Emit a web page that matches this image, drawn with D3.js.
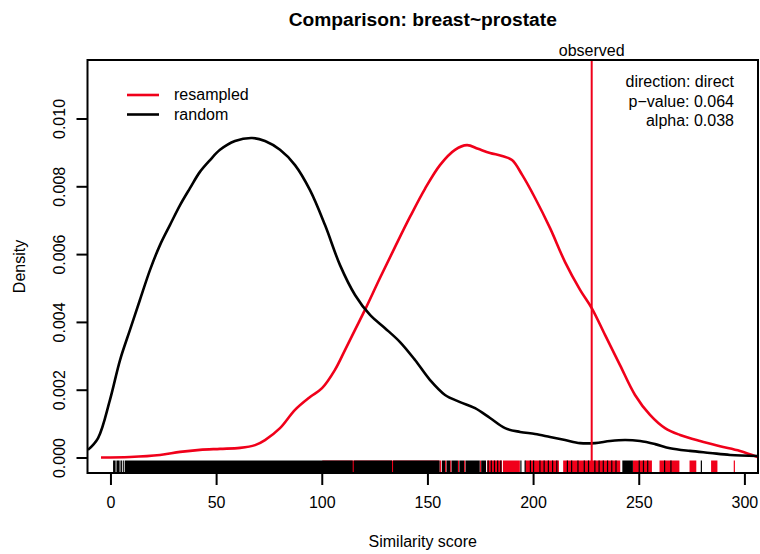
<!DOCTYPE html>
<html>
<head>
<meta charset="utf-8">
<script src="https://cdn.jsdelivr.net/npm/d3@7"></script>
<style>
html,body{margin:0;padding:0;background:#fff;}
text{font-family:"Liberation Sans",Arial,Helvetica,sans-serif;fill:#000;}
</style>
</head>
<body>
<svg id="chart" width="760" height="554"></svg>
<script>
// ---- data ----
const titleText = "Comparison: breast~prostate";
const xLabel = "Similarity score";
const yLabel = "Density";
const xTicks = [0, 50, 100, 150, 200, 250, 300];
const yTicks = [0, 0.002, 0.004, 0.006, 0.008, 0.010];
const yTickLabels = ["0.000", "0.002", "0.004", "0.006", "0.008", "0.010"];
const seriesNames = ["resampled", "random"];
const infoLines = ["direction: direct", "p\u2212value: 0.064", "alpha: 0.038"];
const observedValue = 227.5;
const observedLabel = "observed";

// random density curve (x, density)
const randomX = [-10.9, -6.1, -0.5, 4.3, 9.0, 13.7, 18.5, 23.2, 27.9, 32.7, 37.4, 42.1, 46.9, 51.6, 58.7, 66.8, 72.9, 80.0, 87.1, 94.2, 101.3, 108.4, 115.5, 122.6, 129.7, 136.8, 143.9, 151.0, 158.1, 165.2, 172.3, 179.4, 186.5, 193.6, 200.7, 207.8, 214.9, 222.0, 229.1, 236.2, 243.3, 250.4, 257.5, 264.6, 274.0, 283.5, 293.0, 306.0];
const randomY = [0.00024, 0.00059, 0.00171, 0.00289, 0.00378, 0.00466, 0.00555, 0.00628, 0.00687, 0.00746, 0.00796, 0.00844, 0.00879, 0.00909, 0.00935, 0.00944, 0.00935, 0.00909, 0.00864, 0.00790, 0.00687, 0.00569, 0.00481, 0.00422, 0.00383, 0.00342, 0.00289, 0.00230, 0.00186, 0.00165, 0.00147, 0.00118, 0.00088, 0.00077, 0.00071, 0.00062, 0.00053, 0.00044, 0.00044, 0.00050, 0.00053, 0.00050, 0.00041, 0.00029, 0.00021, 0.00015, 0.00009, 0.00006];

// resampled density curve (x, density)
const resampledX = [-4.7, 9.0, 23.2, 32.7, 42.1, 51.6, 61.1, 68.2, 72.9, 80.0, 87.1, 94.2, 99.9, 106.0, 110.8, 115.5, 120.2, 127.3, 134.4, 141.5, 148.6, 155.7, 162.8, 168.5, 173.7, 179.4, 185.1, 189.8, 194.6, 200.7, 207.8, 214.9, 222.0, 227.7, 233.8, 240.9, 248.0, 255.1, 262.2, 269.3, 278.8, 288.2, 297.7, 306.0];
const resampledY = [0.000015, 0.00003, 0.00009, 0.00018, 0.00024, 0.00027, 0.00030, 0.00038, 0.00053, 0.00088, 0.00142, 0.00180, 0.00206, 0.00260, 0.00319, 0.00378, 0.00437, 0.00531, 0.00622, 0.00711, 0.00794, 0.00864, 0.00909, 0.00923, 0.00912, 0.00900, 0.00891, 0.00879, 0.00835, 0.00767, 0.00678, 0.00578, 0.00496, 0.00440, 0.00363, 0.00274, 0.00186, 0.00127, 0.00088, 0.00068, 0.00050, 0.00035, 0.00021, 0.00003];

// rug: dense ranges (bands) and single ticks
const resampledRugBands = [[100, 155.5], [178, 185], [185.5, 193.5], [196, 212], [214, 241], [247, 256], [259.6, 269], [273.8, 277], [284, 287]];
const resampledRugTicks = [156, 158.4, 160.8, 164.5, 167.4, 174.8, 295];
const randomRugBands = [[1.0, 2.2], [2.6, 4.1], [4.5, 5.2], [5.6, 6.1], [6.5, 114.4], [114.9, 133.0], [133.5, 155.5], [156.6, 158.1], [158.8, 160.5], [161.2, 164.2], [164.9, 167.1], [167.8, 174.5], [175.2, 177.5], [242, 247]];
const randomRugTicks = [178.5, 180, 181.5, 183, 184.5, 194, 196, 198.5, 200, 203, 205, 207, 209, 211, 216, 218, 221, 224, 226, 229, 231, 233, 235, 237, 239, 250, 252, 254, 262, 265, 279.4];

// ---- layout ----
const RED = "#f0001a";
const xDomain = [-11.1, 306.2];
const yDomain = [-0.000442, 0.01174];
const plot = {left: 87.5, right: 758, top: 60, bottom: 473};

const svg = d3.select("#chart");
const x = d3.scaleLinear().domain(xDomain).range([plot.left, plot.right]);
const y = d3.scaleLinear().domain(yDomain).range([plot.bottom, plot.top]);

svg.append("defs").append("clipPath").attr("id", "clip")
  .append("rect").attr("x", plot.left).attr("y", plot.top)
  .attr("width", plot.right - plot.left).attr("height", plot.bottom - plot.top);

const g = svg.append("g").attr("clip-path", "url(#clip)");

// rug
const rugH = 12.5;
function drawRug(bands, ticks, color) {
  g.selectAll(null).data(bands).enter().append("rect")
    .attr("x", d => x(d[0])).attr("width", d => Math.max(1, x(d[1]) - x(d[0])))
    .attr("y", plot.bottom - rugH).attr("height", rugH)
    .attr("fill", color);
  g.selectAll(null).data(ticks).enter().append("line")
    .attr("x1", d => x(d)).attr("x2", d => x(d))
    .attr("y1", plot.bottom - rugH).attr("y2", plot.bottom)
    .attr("stroke", color).attr("stroke-width", 1.2);
}
drawRug(resampledRugBands, resampledRugTicks, RED);
drawRug(randomRugBands, randomRugTicks, "#000");

// curves
const line = d3.line().x(d => x(d[0])).y(d => y(d[1])).curve(d3.curveCatmullRom.alpha(0.5));
g.append("path").datum(d3.zip(resampledX, resampledY))
  .attr("d", line).attr("fill", "none").attr("stroke", RED).attr("stroke-width", 2.6);
g.append("path").datum(d3.zip(randomX, randomY))
  .attr("d", line).attr("fill", "none").attr("stroke", "#000").attr("stroke-width", 2.6);

// observed line
g.append("line").attr("x1", x(observedValue)).attr("x2", x(observedValue))
  .attr("y1", plot.top).attr("y2", plot.bottom)
  .attr("stroke", RED).attr("stroke-width", 2);

// box
svg.append("rect").attr("x", plot.left).attr("y", plot.top)
  .attr("width", plot.right - plot.left).attr("height", plot.bottom - plot.top)
  .attr("fill", "none").attr("stroke", "#000").attr("stroke-width", 2);

// x axis
svg.selectAll(null).data(xTicks).enter().append("line")
  .attr("x1", d => x(d)).attr("x2", d => x(d))
  .attr("y1", plot.bottom).attr("y2", plot.bottom + 12)
  .attr("stroke", "#000").attr("stroke-width", 2);
svg.selectAll(null).data(xTicks).enter().append("text")
  .attr("x", d => x(d)).attr("y", 507.5).attr("text-anchor", "middle")
  .attr("font-size", 16).text(d => d);

// y axis
svg.selectAll(null).data(yTicks).enter().append("line")
  .attr("x1", plot.left - 11).attr("x2", plot.left)
  .attr("y1", d => y(d)).attr("y2", d => y(d))
  .attr("stroke", "#000").attr("stroke-width", 2);
svg.selectAll(null).data(yTicks).enter().append("text")
  .attr("transform", d => `translate(65,${y(d)}) rotate(-90)`)
  .attr("text-anchor", "middle").attr("font-size", 16)
  .text((d, i) => yTickLabels[i]);

// titles
svg.append("text").attr("x", (plot.left + plot.right) / 2).attr("y", 26)
  .attr("text-anchor", "middle").attr("font-size", 19.2).attr("font-weight", "bold")
  .text(titleText);
svg.append("text").attr("x", (plot.left + plot.right) / 2).attr("y", 547)
  .attr("text-anchor", "middle").attr("font-size", 16).text(xLabel);
svg.append("text").attr("transform", `translate(25,${(plot.top + plot.bottom) / 2}) rotate(-90)`)
  .attr("text-anchor", "middle").attr("font-size", 16).text(yLabel);

// observed label
svg.append("text").attr("x", x(observedValue)).attr("y", 56)
  .attr("text-anchor", "middle").attr("font-size", 16).text(observedLabel);

// info text
svg.selectAll(null).data(infoLines).enter().append("text")
  .attr("x", 734).attr("y", (d, i) => 87 + i * 19.5)
  .attr("text-anchor", "end").attr("font-size", 16).text(d => d);

// legend
const legColors = [RED, "#000"];
const leg = svg.append("g");
seriesNames.forEach((name, i) => {
  const ly = 95 + i * 19.5;
  leg.append("line").attr("x1", 127).attr("x2", 159).attr("y1", ly).attr("y2", ly)
    .attr("stroke", legColors[i]).attr("stroke-width", 2.6);
  leg.append("text").attr("x", 174).attr("y", ly + 5).attr("font-size", 16).text(name);
});
</script>
</body>
</html>
